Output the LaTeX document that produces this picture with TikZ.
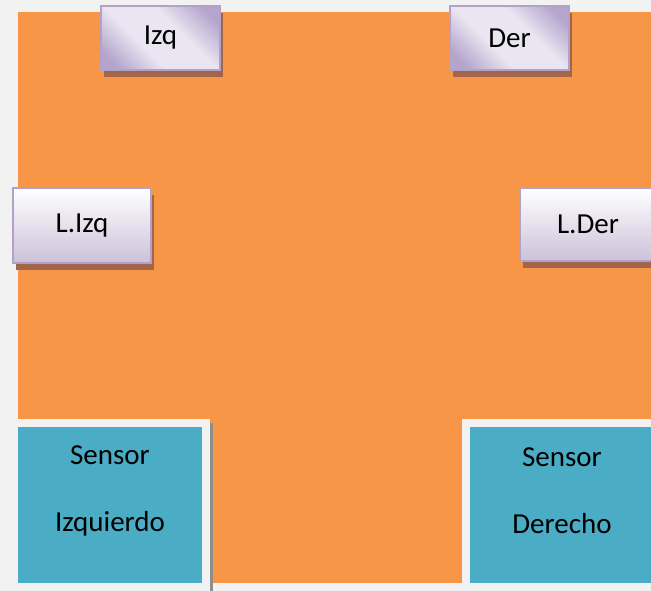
\documentclass[tikz,border=0pt]{standalone}
\usepackage{fontspec}
\setmainfont{Carlito}
\usetikzlibrary{shadows}
\definecolor{pagegray}{HTML}{F2F2F2}
\definecolor{boardorange}{HTML}{F79646}
\definecolor{sensorteal}{HTML}{4BACC6}
\definecolor{lavborder}{HTML}{B3A2C7}
\definecolor{lavdark}{HTML}{B5A5CC}
\definecolor{lavlight}{HTML}{E9E5F1}
\definecolor{lavbottom}{HTML}{CCC1DA}
\definecolor{shadowbrown}{HTML}{A3654A}
\definecolor{framegray}{HTML}{8E8E8E}
\pgfdeclareverticalshading{diaglav}{100bp}{color(0bp)=(lavdark); color(22bp)=(lavdark); color(40bp)=(lavlight); color(60bp)=(lavlight); color(78bp)=(lavdark); color(100bp)=(lavdark)}
\tikzset{
  lbl/.style={font=\fontsize{29}{35}\selectfont, text=black},
  btnbase/.style={lbl, draw=lavborder, line width=1.5pt, rectangle, inner sep=0pt,
    drop shadow={shadow xshift=3pt, shadow yshift=-7pt, fill=shadowbrown, opacity=1}},
  topbtn/.style={btnbase, shading=diaglav, shading angle=-45},
  sidebtn/.style={btnbase, top color=white, bottom color=lavbottom},
  sensorbox/.style={rectangle, fill=sensorteal, draw=pagegray, line width=8pt, inner sep=0pt},
  sensortext/.style={font=\fontsize{29}{67}\selectfont, text=black, align=center, inner sep=0pt}
}
\begin{document}
\begin{tikzpicture}[x=1pt, y=-1pt]
\useasboundingbox (0,0) rectangle (651,591);
\clip (0,0) rectangle (651,591);
\fill[pagegray] (0,0) rectangle (651,591);
\fill[boardorange] (18,12) rectangle (651,583);
% sensors
\fill[framegray] (210,423) rectangle (213,591);
\node[sensorbox, minimum width=192pt, minimum height=164pt] (sl) at (110,505) {};
\node[sensorbox, minimum width=200pt, minimum height=164pt] (sr) at (566,505) {};
\node[sensortext] (slt) at (110,491) {Sensor\\Izquierdo};
\node[sensortext] (srt) at (562,491) {Sensor\\Derecho};
% buttons
\node[topbtn, minimum width=119pt, minimum height=64pt] (izq) at (160.5,38) {Izq};
\node[topbtn, minimum width=119pt, minimum height=64pt] (der) at (509.5,38) {Der};
\node[sidebtn, minimum width=138pt, minimum height=75pt] (lizq) at (82,225.5) {L.Izq};
\node[sidebtn, minimum width=136pt, minimum height=73pt] (lder) at (588,224.5) {L.Der};
\end{tikzpicture}
\end{document}
